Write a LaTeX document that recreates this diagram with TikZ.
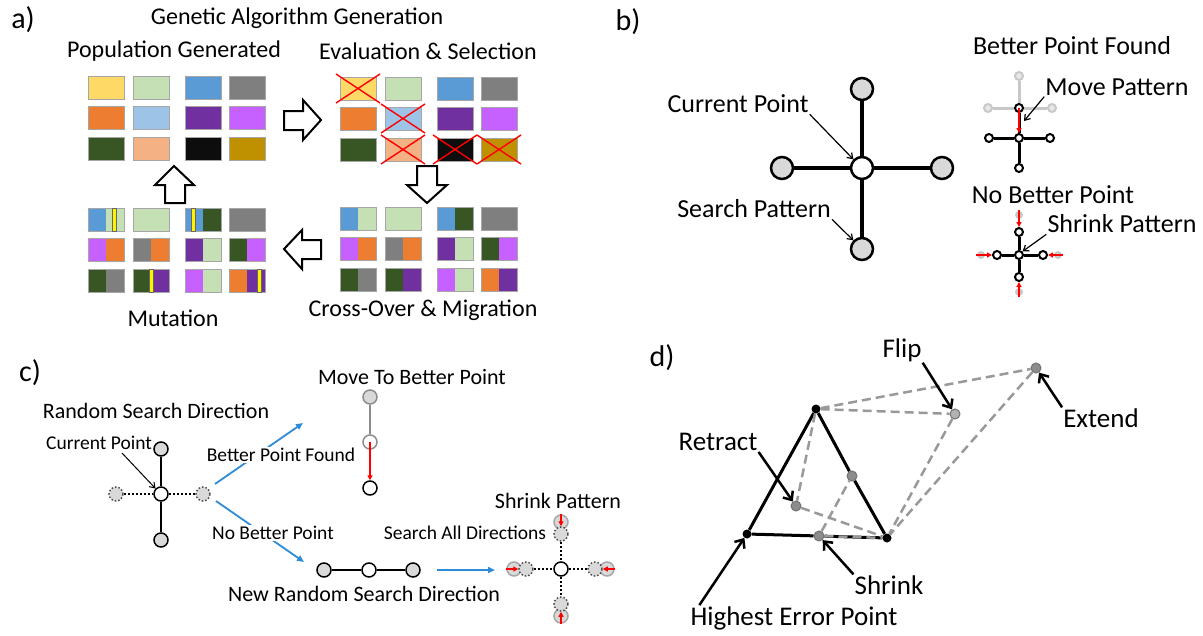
\documentclass[tikz,border=0pt]{standalone}
\usepackage{fontspec}
\setmainfont{Carlito}
\usetikzlibrary{arrows.meta}

\definecolor{gYel}{HTML}{FFD966}
\definecolor{gLgr}{HTML}{C5E0B4}
\definecolor{gBlu}{HTML}{5B9BD5}
\definecolor{gGry}{HTML}{7F7F7F}
\definecolor{gOra}{HTML}{ED7D31}
\definecolor{gLbl}{HTML}{9DC3E6}
\definecolor{gPur}{HTML}{7030A0}
\definecolor{gVio}{HTML}{C660FF}
\definecolor{gDgr}{HTML}{375623}
\definecolor{gSal}{HTML}{F4B183}
\definecolor{gBlk}{HTML}{0D0D0D}
\definecolor{gGld}{HTML}{BF9000}
\definecolor{ptGrey}{HTML}{D9D9D9}
\definecolor{fadeGrey}{HTML}{C8C8C8}
\definecolor{arrBlue}{HTML}{2E8BD8}

% one chromosome box, left and right half
\newcommand\chrom[4]{%
  \fill[#3] (#1,#2) rectangle ++(18,23);
  \fill[#4] (#1+18,#2) rectangle ++(18,23);
  \draw[boxedge] (#1,#2) rectangle ++(36,23);}
% mutated gene
\newcommand\gene[2]{%
  \draw[fill=yellow, draw=black!60, line width=.6pt] (#1,#2) rectangle ++(4,23);}
% rejected chromosome
\newcommand\reject[2]{%
  \draw[red, line width=1.4pt] (#1-4,#2-3) -- ++(44,29) (#1-4,#2+26) -- ++(44,-29);}

\begin{document}
\begin{tikzpicture}[x=1pt, y=-1pt,
    lbl/.style={font=\fontsize{24}{28}\selectfont, inner sep=1pt},
    lblb/.style={font=\fontsize{26}{30}\selectfont, inner sep=1pt},
    lblc/.style={font=\fontsize{22}{26}\selectfont, inner sep=1pt},
    lblsm/.style={font=\fontsize{19.5}{23}\selectfont, inner sep=1pt},
    lbld/.style={font=\fontsize{27}{31}\selectfont, inner sep=1pt},
    panel/.style={font=\fontsize{30}{34}\selectfont, inner sep=0pt},
    boxedge/.style={draw=black!35, line width=1pt},
    blockarrow/.style={draw=black, fill=white, line width=2pt, line join=miter},
    bigpt/.style={circle, draw=black, line width=2.5pt, fill=ptGrey,
        inner sep=0pt, minimum size=22pt},
    smallpt/.style={circle, draw=black, line width=2pt, fill=white,
        inner sep=0pt, minimum size=8pt},
    fadept/.style={smallpt, draw=fadeGrey, fill=ptGrey!60},
    cpt/.style={circle, draw=black, line width=1.5pt, fill=ptGrey,
        inner sep=0pt, minimum size=14pt},
    dotpt/.style={cpt, draw=black!70, dotted},
    dpt/.style={circle, fill=black, inner sep=0pt, minimum size=9pt},
    gpt/.style={circle, draw=black!55, line width=1pt, fill=black!45,
        inner sep=0pt, minimum size=10pt},
    note/.style={line width=1.2pt, -{Straight Barb[length=5pt, width=7pt]}},
    bignote/.style={line width=2.5pt, -{Straight Barb[length=7pt, width=12pt]}},
    redarrow/.style={red, line width=1.8pt, -{Triangle[length=5pt, width=5pt]}},
    bluearrow/.style={arrBlue, line width=1.8pt, -{Triangle[length=7pt, width=6pt]}},
    dashgrey/.style={black!40, line width=2.5pt, dash pattern=on 9pt off 5pt}]

    \useasboundingbox (0,0) rectangle (1203,635);

    % ---------------- a) genetic algorithm
    \node[panel] (pa) at (23,20) {a)};
    \node[lbl] (tGA) at (297,18) {Genetic Algorithm Generation};
    \node[lbl] (tPop) at (174,51) {Population Generated};
    \node[lbl] (tEval) at (428,51) {Evaluation \& Selection};
    \node[lbl] (tMut) at (173,318) {Mutation};
    \node[lbl] (tCross) at (423,310) {Cross-Over \& Migration};

    \foreach \y/\a/\b/\c/\d in {0/gYel/gLgr/gBlu/gGry, 30/gOra/gLbl/gPur/gVio,
        61/gDgr/gSal/gBlk/gGld}{
        \chrom{88}{76+\y}{\a}{\a} \chrom{133}{76+\y}{\b}{\b}
        \chrom{185}{76+\y}{\c}{\c} \chrom{229}{76+\y}{\d}{\d}
        \chrom{340}{77+\y}{\a}{\a} \chrom{385}{77+\y}{\b}{\b}
        \chrom{437}{77+\y}{\c}{\c} \chrom{481}{77+\y}{\d}{\d}
    }
    \reject{340}{77} \reject{385}{107} \reject{385}{138}
    \reject{437}{138} \reject{481}{138}

    \foreach \x/\y in {340/207, 88/208}{
        \chrom{\x}{\y}{gBlu}{gLgr} \chrom{\x+45}{\y}{gLgr}{gLgr}
        \chrom{\x+97}{\y}{gBlu}{gDgr} \chrom{\x+141}{\y}{gGry}{gGry}
        \chrom{\x}{\y+30}{gVio}{gOra} \chrom{\x+45}{\y+30}{gGry}{gOra}
        \chrom{\x+97}{\y+30}{gPur}{gLgr} \chrom{\x+141}{\y+30}{gDgr}{gVio}
        \chrom{\x}{\y+61}{gDgr}{gGry} \chrom{\x+45}{\y+61}{gDgr}{gPur}
        \chrom{\x+97}{\y+61}{gVio}{gLgr} \chrom{\x+141}{\y+61}{gOra}{gPur}
    }
    \gene{112}{208} \gene{191}{208} \gene{149}{269} \gene{257}{269}

    \draw[blockarrow] (284,111) -- (303,111) -- (303,100) -- (321,120)
        -- (303,140) -- (303,130) -- (284,130) -- cycle;
    \draw[blockarrow] (417,166) -- (437,166) -- (437,185) -- (447,185)
        -- (427,203) -- (407,185) -- (417,185) -- cycle;
    \draw[blockarrow] (321,240) -- (321,259) -- (302,259) -- (302,269)
        -- (284,249) -- (302,230) -- (302,240) -- cycle;
    \draw[blockarrow] (165,203) -- (185,203) -- (185,185) -- (194,185)
        -- (174,166) -- (155,185) -- (165,185) -- cycle;

    % ---------------- b) pattern search
    \node[panel] (pb) at (628,22) {b)};
    \node[bigpt, fill=white] (bC) at (862,168) {};
    \node[bigpt] (bT) at (862,89) {};
    \node[bigpt] (bL) at (782,168) {};
    \node[bigpt] (bR) at (942,168) {};
    \node[bigpt] (bB) at (862,249) {};
    \draw[line width=4pt] (bT) -- (bC) -- (bB) (bL) -- (bC) -- (bR);
    \node[lblb] (lCur) at (738,104) {Current Point};
    \node[lblb] (lSrch) at (754,209) {Search Pattern};
    \draw[note] (lCur.south east) -- (bC.north west);
    \draw[note] (lSrch.south east) -- (bB.north west);

    \node[lblb] (lBetter) at (1072,46) {Better Point Found};
    \node[fadept] (oT) at (1019,76) {};
    \node[fadept] (oL) at (988,108) {};
    \node[fadept] (oR) at (1052,108) {};
    \node[smallpt] (nT) at (1019,108) {};
    \node[smallpt] (nC) at (1019,138) {};
    \node[smallpt] (nL) at (989,138) {};
    \node[smallpt] (nR) at (1050,138) {};
    \node[smallpt] (nB) at (1019,168) {};
    \draw[fadeGrey, line width=3pt] (oT) -- (nT) (oL) -- (nT) -- (oR);
    \draw[line width=3pt] (nT) -- (nC) -- (nB) (nL) -- (nC) -- (nR);
    \draw[redarrow] (nT.center) -- (nC);
    \node[lblb] (lMove) at (1117,87) {Move Pattern};
    \draw[note] (lMove.south west) -- (1024,121);

    \node[lblb] (lNoBetter) at (1053,195) {No Better Point};
    \node[fadept, draw=none, fill=fadeGrey] (fT) at (1019,215) {};
    \node[fadept, draw=none, fill=fadeGrey] (fB) at (1019,292) {};
    \node[fadept, draw=none, fill=fadeGrey] (fL) at (981,255) {};
    \node[fadept, draw=none, fill=fadeGrey] (fR) at (1058,255) {};
    \node[smallpt] (sC) at (1019,255) {};
    \node[smallpt] (sT) at (1019,232) {};
    \node[smallpt] (sB) at (1019,277) {};
    \node[smallpt] (sL) at (997,255) {};
    \node[smallpt] (sR) at (1043,255) {};
    \draw[line width=3pt] (sT) -- (sC) -- (sB) (sL) -- (sC) -- (sR);
    \draw[redarrow] (fT.north) -- (sT);
    \draw[redarrow] (fB.south) -- (sB);
    \draw[redarrow] (fL.west) -- (sL);
    \draw[redarrow] (fR.east) -- (sR);
    \node[lblb] (lShrinkB) at (1122,224) {Shrink Pattern};
    \draw[note] (lShrinkB.south west) -- (sC.north east);

    % ---------------- c) random search direction
    \node[panel] (pc) at (30,373) {c)};
    \node[lblc] (lRand) at (156,411) {Random Search Direction};
    \node[lblsm] (lCurC) at (99,443) {Current Point};
    \node[cpt, fill=white] (cC) at (161,494) {};
    \node[cpt] (cT) at (161,449) {};
    \node[cpt] (cB) at (161,540) {};
    \node[dotpt] (cL) at (116,494) {};
    \node[dotpt] (cR) at (203,494) {};
    \draw[line width=2pt] (cT) -- (cC) -- (cB);
    \draw[line width=2pt, dotted] (cL) -- (cC) -- (cR);
    \coordinate (cArr) at (122,453);
    \draw[note, line width=1pt] (cArr) -- (cC.north west);

    \coordinate (up0) at (215,484);
    \coordinate (up1) at (303,423);
    \coordinate (dn0) at (216,501);
    \coordinate (dn1) at (304,562);
    \draw[bluearrow] (up0) -- (up1);
    \draw[bluearrow] (dn0) -- (dn1);
    \node[lblsm, fill=white] (lFound) at (281,455) {Better Point Found};
    \node[lblsm, fill=white] (lNoC) at (273,533) {No Better Point};

    \node[lblc] (lMoveTo) at (412,377) {Move To Better Point};
    \node[cpt, draw=black!45] (mT) at (370,397) {};
    \node[cpt, draw=black!45, fill=white] (mM) at (370,442) {};
    \node[cpt, fill=white] (mB) at (370,488) {};
    \draw[black!45, line width=2pt] (mT) -- (mM);
    \draw[redarrow] (mM.center) -- (mB);

    \node[cpt] (rL) at (324,570) {};
    \node[cpt, fill=white] (rC) at (369,570) {};
    \node[cpt] (rR) at (413,570) {};
    \draw[line width=2pt] (rL) -- (rC) -- (rR);
    \node[lblc] (lNewDir) at (364,594) {New Random Search Direction};
    \coordinate (rt0) at (437,570);
    \coordinate (rt1) at (495,570);
    \draw[bluearrow] (rt0) -- (rt1);

    \node[lblc] (lShrinkC) at (558,501) {Shrink Pattern};
    \node[lblsm] (lAll) at (465,533) {Search All Directions};
    \node[cpt, draw=black!35] (kT0) at (561,522) {};
    \node[cpt, draw=black!35] (kB0) at (561,616) {};
    \node[cpt, draw=black!35] (kL0) at (514,569) {};
    \node[cpt, draw=black!35] (kR0) at (607,569) {};
    \node[dotpt] (kT) at (561,534) {};
    \node[dotpt] (kB) at (561,604) {};
    \node[dotpt] (kL) at (526,569) {};
    \node[dotpt] (kR) at (595,569) {};
    \node[cpt, fill=white] (kC) at (561,569) {};
    \draw[line width=2pt, dotted] (kT) -- (kC) -- (kB) (kL) -- (kC) -- (kR);
    \draw[redarrow] (kT0.north) -- (kT.north);
    \draw[redarrow] (kB0.south) -- (kB.south);
    \draw[redarrow] (kL0.west) -- (kL.west);
    \draw[redarrow] (kR0.east) -- (kR.east);

    % ---------------- d) simplex moves
    \node[panel] (pd) at (662,358) {d)};
    \node[dpt] (dT) at (816,409) {};
    \node[dpt] (dL) at (747,534) {};
    \node[dpt] (dR) at (887,538) {};
    \node[gpt] (dE) at (1036,368) {};
    \node[gpt, fill=black!30] (dF) at (955,414) {};
    \node[gpt] (dS1) at (852,476) {};
    \node[gpt] (dS2) at (819,536) {};
    \node[gpt] (dRt) at (796,506) {};
    \draw[line width=3pt] (dT) -- (dL) -- (dS2) -- (dR) -- (dS1) -- (dT);
    \draw[dashgrey] (dT) -- (dE) (dT) -- (dF) (dF) -- (dR) (dE) -- (dR)
        (dT) -- (dRt) (dRt) -- (dR) (dS2) -- (dS1) (dS2) -- (dR);
    \node[lbld] (lFlip) at (902,350) {Flip};
    \node[lbld] (lExt) at (1101,418) {Extend};
    \node[lbld] (lRet) at (718,442) {Retract};
    \node[lbld] (lShr) at (889,585) {Shrink};
    \node[lbld] (lHigh) at (794,618) {Highest Error Point};
    \draw[bignote] (lFlip.south east) -- (dF);
    \draw[bignote] (lExt.north west) -- (dE);
    \draw[bignote] (lRet.south east) -- (dRt);
    \draw[bignote] (lShr.north west) -- (dS2);
    \draw[bignote] ([xshift=10pt]lHigh.north west) -- (dL);
\end{tikzpicture}
\end{document}
